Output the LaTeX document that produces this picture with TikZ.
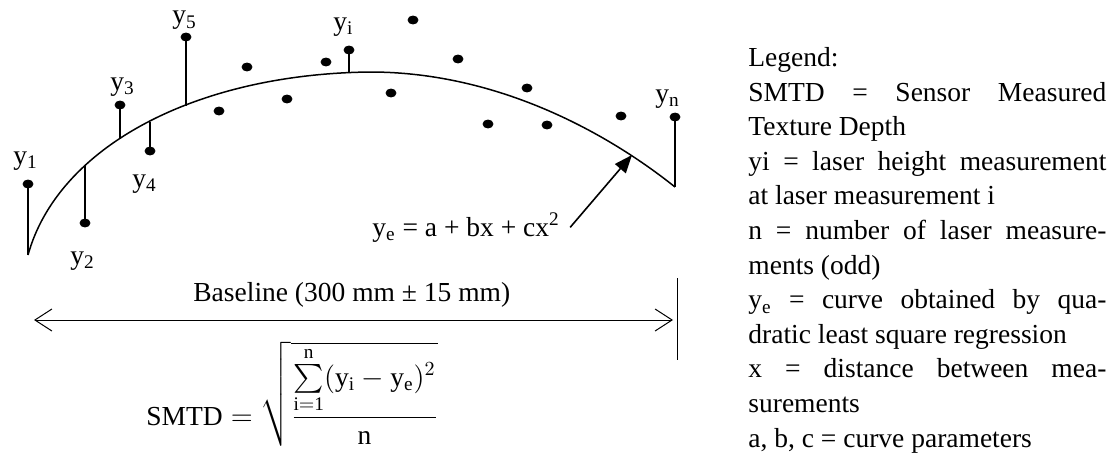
\documentclass[tikz,border=0pt]{standalone}
\usepackage{amsmath}
\usepackage{fontspec}
\setmainfont{Liberation Serif}
\usetikzlibrary{arrows.meta,shapes.geometric}
\newcommand\fs{\fontsize{13.75}{17.3}\selectfont}
\newcommand\jline[1]{\makebox[179pt][s]{#1}}

\begin{document}
\begin{tikzpicture}[x=0.5pt,y=-0.5pt,
    every node/.style={font=\fs},
    dot/.style={draw,ellipse,fill,minimum width=5pt,minimum height=4pt,inner sep=0pt},
    lab/.style={anchor=base west,inner sep=0pt},
    stem/.style={line width=0.75pt},
    fitcurve/.style={line width=0.75pt},
    dim/.style={line width=0.5pt,{Straight Barb[length=8.5pt,width=11pt]}-{Straight Barb[length=8.5pt,width=11pt]}},
    pointer/.style={line width=0.8pt,-{Triangle[length=9pt,width=7pt]}}]
    \useasboundingbox (0,0) rectangle (1112,455);

    \coordinate (c1) at (28,255);
    \coordinate (ctop) at (370,72);
    \coordinate (cn) at (675,187);
    \draw[fitcurve] (c1) .. controls (58,147) and (195,74) .. (ctop)
        .. controls (500,72) and (610,135) .. (cn);

    \coordinate (f2) at (85,166);
    \coordinate (f3) at (120,139);
    \coordinate (f4) at (150,122);
    \coordinate (f5) at (186,106);
    \coordinate (fi) at (349,73);

    \node (d1) [dot] at (28,184) {};
    \node (d2) [dot] at (85,223) {};
    \node (d3) [dot] at (120,105) {};
    \node (d4) [dot] at (150,151) {};
    \node (d5) [dot] at (186,37) {};
    \node (di) [dot] at (349,50) {};
    \node (dn) [dot] at (675,117) {};

    \node (p1) [dot] at (219,111) {};
    \node (p2) [dot] at (247,67) {};
    \node (p3) [dot] at (287,99) {};
    \node (p4) [dot] at (326,62) {};
    \node (p5) [dot] at (391,93) {};
    \node (p6) [dot] at (413,20) {};
    \node (p7) [dot] at (458,59) {};
    \node (p8) [dot] at (488,124) {};
    \node (p9) [dot] at (527,88) {};
    \node (p10) [dot] at (547,125) {};
    \node (p11) [dot] at (621,116) {};

    \draw[stem] (d1) -- (c1);
    \draw[stem] (d2) -- (f2);
    \draw[stem] (d3) -- (f3);
    \draw[stem] (d4) -- (f4);
    \draw[stem] (d5) -- (f5);
    \draw[stem] (di) -- (fi);
    \draw[stem] (dn) -- (cn);

    \node (y1) [lab] at (13,164) {y\textsubscript{1}};
    \node (y2) [lab] at (70,264) {y\textsubscript{2}};
    \node (y3) [lab] at (110,90) {y\textsubscript{3}};
    \node (y4) [lab] at (132,187) {y\textsubscript{4}};
    \node (y5) [lab] at (172,24) {y\textsubscript{5}};
    \node (yi) [lab] at (333,30) {y\textsubscript{i}};
    \node (yn) [lab] at (655,102) {y\textsubscript{n}};

    \node (fit) [lab] at (372,236) {y\textsubscript{e} = a + bx + cx\textsuperscript{2}};
    \coordinate (ptr) at (632,155);
    \draw[pointer] ([xshift=5pt]fit.east) -- (ptr);

    \node (blt) [lab] at (193,301) {Baseline (300 mm ± 15 mm)};
    \coordinate (bl) at (34,320);
    \coordinate (br) at (673,320);
    \draw[dim] (bl) -- (br);
    \coordinate (vt) at (677,278);
    \coordinate (vb) at (677,360);
    \draw[line width=0.5pt] (vt) -- (vb);

    \node (smtd) [lab] at (146,425) {$\mathrm{SMTD} = \sqrt{\dfrac{\textstyle\sum\limits_{\mathrm{i=1}}^{\mathrm{n}} (\mathrm{y_{i}} - \mathrm{y_{e}})^{2}}{\mathrm{n}}}$};

    \node (leg) [anchor=north west, inner sep=0pt, text width=179pt, align=left] at (748,47) {\spaceskip=0pt\xspaceskip=0pt
        Legend:\\
        \jline{SMTD = Sensor Measured}\\
        Texture Depth\\
        \jline{yi = laser height measurement}\\
        at laser measurement i\\
        \jline{n = number of laser measure-}\\
        ments (odd)\\
        \jline{y\textsubscript{e} = curve obtained by qua-}\\
        dratic least square regression\\
        \jline{x = distance between mea-}\\
        surements\\
        a, b, c = curve parameters};
\end{tikzpicture}
\end{document}
